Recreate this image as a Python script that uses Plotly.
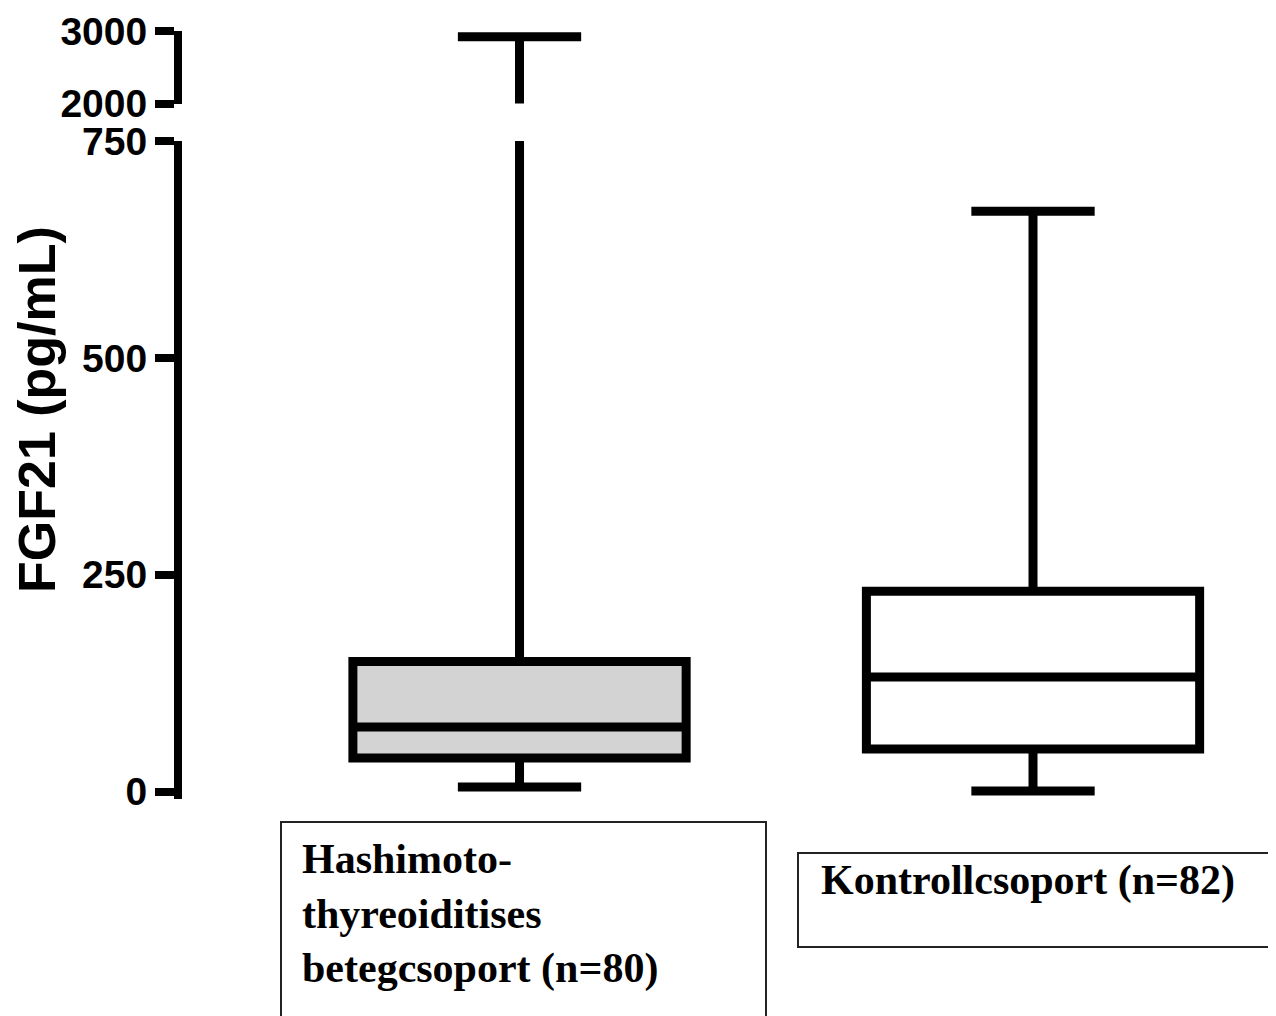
import plotly.graph_objects as go

# ---- data ----
groups = ["Hashimoto-<br>thyreoiditises<br>betegcsoport (n=80)", "Kontrollcsoport (n=82)"]
group_x = [0, 1]
q1_vals = [38.6, 49.0]
median_vals = [74.3, 132.0]
q3_vals = [150.0, 231.0]
min_vals = [5.2, 0.5]
max_vals = [2920.0, 669.0]
fill_colors = ["#d3d3d3", "#ffffff"]

lower_ticks = [0, 250, 500, 750]
upper_ticks = [2000, 3000]
y_title = "FGF21 (pg/mL)"

OFF = 8                      # page body margin
W, H = 1276 - OFF, 1016 - OFF
L = 182 - OFF                # left margin (plot-area left edge)
PW = W - L

def px_x(p):
    return (p - OFF - L) / PW

def px_y(p):
    return (H - (p - OFF)) / H

fig = go.Figure()
for axis in ["y", "y2"]:
    for i in range(len(groups)):
        fig.add_trace(go.Box(
            x=[group_x[i]],
            q1=[q1_vals[i]], median=[median_vals[i]], q3=[q3_vals[i]],
            lowerfence=[min_vals[i]], upperfence=[max_vals[i]],
            width=0.649, whiskerwidth=0.37,
            fillcolor=fill_colors[i],
            line=dict(color="black", width=9),
            boxpoints=False, hoverinfo="skip",
            showlegend=False,
            xaxis="x", yaxis=axis,
        ))

axis_common = dict(
    showline=True, linecolor="black", linewidth=8,
    ticks="outside", ticklen=19, tickwidth=8, tickcolor="black",
    showgrid=False, zeroline=False, automargin=False,
    tickfont=dict(family="Liberation Sans", size=39, color="black", weight="bold"),
)

fig.update_layout(
    width=W, height=H,
    margin=dict(l=L, r=0, t=0, b=0, pad=0),
    paper_bgcolor="white", plot_bgcolor="white",
    xaxis=dict(range=[-0.6573, 1.4732], visible=False, fixedrange=True, automargin=False),
    yaxis=dict(domain=[px_y(799), px_y(141)], range=[-8.6, 750],
               tickvals=lower_ticks, anchor="x", **axis_common),
    yaxis2=dict(domain=[px_y(103.5), px_y(31)], range=[2000, 3000],
                tickvals=upper_ticks, anchor="x", **axis_common),
    shapes=[
        dict(type="rect", xref="paper", yref="paper",
             x0=px_x(281), x1=px_x(766), y0=px_y(1030), y1=px_y(822),
             line=dict(color="#222222", width=2), fillcolor="rgba(0,0,0,0)"),
        dict(type="rect", xref="paper", yref="paper",
             x0=px_x(798), x1=px_x(1300), y0=px_y(947), y1=px_y(853),
             line=dict(color="#222222", width=2), fillcolor="rgba(0,0,0,0)"),
    ],
    annotations=[
        dict(text=y_title, textangle=-90, xref="paper", yref="paper",
             x=px_x(37), y=px_y(410), xanchor="center", yanchor="middle",
             showarrow=False,
             font=dict(family="Liberation Sans", size=52, color="black", weight="bold")),
        dict(text=groups[0], xref="paper", yref="paper",
             x=px_x(300), y=px_y(914), xanchor="left", yanchor="middle", align="left",
             showarrow=False,
             font=dict(family="Liberation Serif", size=42, color="black", weight="bold")),
        dict(text=groups[1], xref="paper", yref="paper",
             x=px_x(819), y=px_y(880), xanchor="left", yanchor="middle", align="left",
             showarrow=False,
             font=dict(family="Liberation Serif", size=42, color="black", weight="bold")),
    ],
)

fig.write_html("out.html")
